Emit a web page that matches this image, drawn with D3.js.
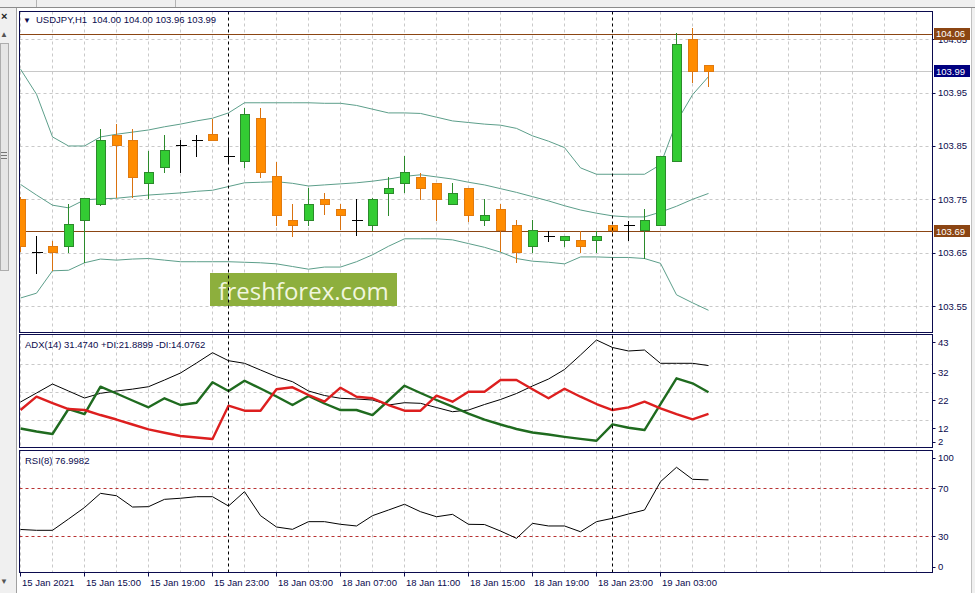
<!DOCTYPE html>
<html><head><meta charset="utf-8">
<script src="https://cdn.jsdelivr.net/npm/d3@7"></script>
<style>body{margin:0;background:#fff}svg{display:block}text{font-family:"Liberation Sans",Arial,sans-serif}</style>
</head><body><svg id="c" width="975" height="593"></svg>
<script>
// ---------- DATA ----------
const times = ["15 Jan 11:00","15 Jan 12:00","15 Jan 13:00","15 Jan 14:00","15 Jan 15:00","15 Jan 16:00","15 Jan 17:00","15 Jan 18:00","15 Jan 19:00","15 Jan 20:00","15 Jan 21:00","15 Jan 22:00","15 Jan 23:00",
"18 Jan 00:00","18 Jan 01:00","18 Jan 02:00","18 Jan 03:00","18 Jan 04:00","18 Jan 05:00","18 Jan 06:00","18 Jan 07:00","18 Jan 08:00","18 Jan 09:00","18 Jan 10:00","18 Jan 11:00","18 Jan 12:00","18 Jan 13:00","18 Jan 14:00","18 Jan 15:00","18 Jan 16:00","18 Jan 17:00","18 Jan 18:00","18 Jan 19:00","18 Jan 20:00","18 Jan 21:00","18 Jan 22:00","18 Jan 23:00",
"19 Jan 00:00","19 Jan 01:00","19 Jan 02:00","19 Jan 03:00","19 Jan 04:00","19 Jan 05:00","19 Jan 06:00"];
const open  = [103.750,103.651,103.662,103.661,103.710,103.741,103.870,103.861,103.780,103.809,103.851,103.860,103.871,103.831,103.820,103.901,103.792,103.711,103.710,103.750,103.731,103.710,103.701,103.761,103.780,103.791,103.780,103.741,103.771,103.711,103.731,103.700,103.662,103.680,103.672,103.672,103.672,103.701,103.700,103.691,103.701,103.821,104.050,104.000];
const high  = [103.755,103.681,103.672,103.741,103.752,103.882,103.891,103.882,103.841,103.871,103.861,103.871,103.901,103.861,103.921,103.921,103.820,103.741,103.772,103.761,103.741,103.750,103.752,103.791,103.832,103.800,103.781,103.781,103.772,103.750,103.741,103.711,103.711,103.691,103.681,103.691,103.691,103.702,103.710,103.731,103.832,104.061,104.071,104.000];
const low   = [103.652,103.610,103.616,103.650,103.631,103.738,103.752,103.752,103.750,103.800,103.800,103.830,103.860,103.816,103.809,103.790,103.700,103.680,103.700,103.720,103.692,103.681,103.691,103.719,103.761,103.749,103.710,103.740,103.708,103.700,103.652,103.631,103.650,103.670,103.661,103.650,103.650,103.681,103.671,103.639,103.700,103.820,103.969,103.960];
const close = [103.661,103.651,103.651,103.702,103.751,103.861,103.851,103.790,103.801,103.841,103.851,103.860,103.860,103.831,103.909,103.800,103.720,103.700,103.741,103.741,103.720,103.710,103.750,103.771,103.801,103.770,103.750,103.761,103.720,103.720,103.691,103.651,103.691,103.680,103.680,103.662,103.680,103.691,103.700,103.711,103.831,104.041,103.990,103.990];

const bbUpper  = [103.994,103.947,103.867,103.850,103.850,103.867,103.872,103.876,103.880,103.886,103.891,103.897,103.902,103.912,103.931,103.931,103.931,103.931,103.931,103.930,103.930,103.926,103.919,103.912,103.912,103.911,103.904,103.897,103.894,103.891,103.889,103.883,103.869,103.859,103.847,103.809,103.797,103.797,103.797,103.797,103.815,103.895,103.946,103.980];
const bbMiddle = [103.778,103.758,103.739,103.734,103.749,103.751,103.752,103.755,103.758,103.760,103.762,103.765,103.767,103.774,103.781,103.782,103.783,103.780,103.775,103.777,103.779,103.781,103.784,103.788,103.793,103.796,103.792,103.788,103.782,103.777,103.770,103.763,103.755,103.747,103.738,103.730,103.724,103.719,103.717,103.717,103.726,103.737,103.750,103.761];
const bbLower  = [103.565,103.574,103.616,103.617,103.631,103.638,103.636,103.638,103.639,103.636,103.633,103.633,103.633,103.633,103.632,103.631,103.629,103.624,103.619,103.623,103.623,103.633,103.646,103.662,103.676,103.676,103.676,103.674,103.667,103.660,103.651,103.639,103.634,103.632,103.629,103.642,103.642,103.641,103.641,103.639,103.630,103.571,103.556,103.542];

const adx     = [18.36,21.6,24.83,22.32,19.8,21.49,22.32,23.0,23.86,26.27,28.79,32.39,36.09,33.22,32.28,29.87,27.46,25.66,22.32,20.7,19.69,19.44,19.08,17.28,18.11,17.89,16.38,14.87,15.48,17.46,19.26,21.42,24.12,26.63,30.05,35.27,40.66,37.96,36.71,37.06,32.28,32.28,32.28,31.47];
const plusDI  = [8.83,7.75,6.85,15.84,14.04,23.86,21.42,18.9,16.45,19.69,17.28,18.11,25.45,22.32,26.02,23.22,20.34,17.28,20.52,17.82,15.48,15.48,13.68,18.9,24.22,21.6,19.08,16.67,14.22,12.06,10.27,8.65,7.39,6.67,5.84,5.12,4.44,10.34,9.12,8.29,17.64,26.88,25.09,21.89];
const minusDI = [15.48,20.27,18.0,15.84,15.48,13.68,12.06,10.27,8.54,7.32,6.13,5.59,5.05,17.03,15.23,15.23,22.93,23.65,20.88,18.47,23.5,20.27,19.69,17.28,15.23,15.23,20.63,18.47,22.06,22.06,26.27,26.27,22.93,19.69,23.14,20.27,17.64,15.48,16.45,18.47,16.09,14.04,12.14,14.08];

const rsi = [35.7,35.0,35.0,44.4,54.0,65.8,63.8,54.4,54.7,60.8,61.7,63.0,63.0,55.25,67.2,47.2,37.75,35.8,42.2,42.2,40.0,38.6,47.2,51.9,56.7,50.5,46.3,48.3,40.0,39.8,34.4,28.3,40.8,38.6,38.6,33.8,42.2,45.0,48.6,51.9,75.5,87.5,77.5,77.0];

const timeTickIdx = [0,4,8,12,16,20,24,28,32,36,40];
const timeTickLabels = ["15 Jan 2021","15 Jan 15:00","15 Jan 19:00","15 Jan 23:00","18 Jan 03:00","18 Jan 07:00","18 Jan 11:00","18 Jan 15:00","18 Jan 19:00","18 Jan 23:00","19 Jan 03:00"];
const priceTicks = [104.05,103.95,103.85,103.75,103.65,103.55];
const adxTicks = [43,32,22,12,2];
const rsiTicks = [100,70,30,0];
const rsiLevels = [70,30];
const hLines = [104.06,103.69];
const bidPrice = 103.99;
const separatorIdx = [13,37];

// ---------- LAYOUT ----------
const svg = d3.select("#c");
const L = 19.5, R = 932.5;
const main = {top:11.5, bottom:332.5};
const pA = {top:334.5, bottom:447.5};
const pR = {top:450.5, bottom:572.5};

const x = d3.scaleLinear().domain([0,43]).range([20.5, 20.5+16*43]);
const yP = d3.scaleLinear().domain([103.55,104.05]).range([306,39.3]);
const yA = d3.scaleLinear().domain([2,43]).range([447.5,333.5]);
const yR = d3.scaleLinear().domain([0,100]).range([572.3,452.3]);

const navy = "#0b0b4e";
const gridCol = "#c9c9c9";

// chrome
svg.append("rect").attr("width",975).attr("height",593).attr("fill","#fff");
svg.append("rect").attr("x",0).attr("y",0).attr("width",975).attr("height",8).attr("fill","#f0f0f0");
svg.append("line").attr("x1",0).attr("x2",975).attr("y1",7.5).attr("y2",7.5).attr("stroke","#8c8c8c");
[36.5,175.5].forEach(v=>svg.append("line").attr("x1",v).attr("x2",v).attr("y1",0).attr("y2",7).attr("stroke","#b4b4b4"));
svg.append("rect").attr("x",0).attr("y",8).attr("width",16).attr("height",585).attr("fill","#f0f0f0");
svg.append("line").attr("x1",16.5).attr("x2",16.5).attr("y1",8).attr("y2",593).attr("stroke","#a0a0a0");
svg.append("rect").attr("x",0.5).attr("y",43.5).attr("width",8).attr("height",227).attr("fill","#e6e6e6").attr("stroke","#adadad");
svg.append("text").attr("x",1).attr("y",20).attr("font-size",11).attr("font-weight","bold").attr("fill","#222").text("×");
svg.append("text").attr("x",0).attr("y",37).attr("font-size",8).attr("fill","#555").text("▲");
svg.append("text").attr("x",0).attr("y",584).attr("font-size",8).attr("fill","#555").text("▼");
[152.5,155.5,158.5].forEach(v=>svg.append("line").attr("x1",1).attr("x2",7).attr("y1",v).attr("y2",v).attr("stroke","#777"));
svg.append("rect").attr("x",971).attr("y",8).attr("width",4).attr("height",585).attr("fill","#f0f0f0");
svg.append("line").attr("x1",971.5).attr("x2",971.5).attr("y1",8).attr("y2",593).attr("stroke","#c0c0c0");

// clip paths
const defs = svg.append("defs");
[["cm",main],["ca",pA],["cr",pR]].forEach(([id,p])=>{
  defs.append("clipPath").attr("id",id).append("rect").attr("x",L).attr("y",p.top).attr("width",R-L).attr("height",p.bottom-p.top);
});

// vertical grid in all panels
const gridIdx = d3.range(0,57,2);
[main,pA,pR].forEach(p=>{
  svg.append("g").selectAll("line").data(gridIdx).join("line")
    .attr("x1",d=>x(d)).attr("x2",d=>x(d)).attr("y1",p.top).attr("y2",p.bottom)
    .attr("stroke",gridCol).attr("stroke-dasharray","3,3");
});
// horizontal grid main
svg.append("g").selectAll("line").data(priceTicks).join("line")
  .attr("x1",L).attr("x2",R).attr("y1",d=>Math.round(yP(d))+0.5).attr("y2",d=>Math.round(yP(d))+0.5)
  .attr("stroke",gridCol).attr("stroke-dasharray","3,3");
svg.append("g").selectAll("line").data([32,22,12]).join("line")
  .attr("x1",L).attr("x2",R).attr("y1",d=>Math.round(yA(d))+0.5).attr("y2",d=>Math.round(yA(d))+0.5)
  .attr("stroke",gridCol).attr("stroke-dasharray","3,3");

// watermark
svg.append("rect").attr("x",210).attr("y",273).attr("width",187).attr("height",33).attr("fill","#8daf3d");
svg.append("text").attr("x",303.5).attr("y",290).attr("text-anchor","middle").attr("dominant-baseline","central")
  .style("font-family","'Open Sans',sans-serif").attr("font-size",24).attr("fill","#f1f6df").text("freshforex.com");

// bid line
const yb = Math.round(yP(bidPrice))+0.5;
svg.append("line").attr("x1",L).attr("x2",R).attr("y1",yb).attr("y2",yb).attr("stroke","#c8c8c8");

// horizontal brown lines
svg.append("g").selectAll("line").data(hLines).join("line")
  .attr("x1",L).attr("x2",R).attr("y1",d=>Math.round(yP(d))+0.5).attr("y2",d=>Math.round(yP(d))+0.5)
  .attr("stroke","#8b4513");

// Bollinger bands
const gm = svg.append("g").attr("clip-path","url(#cm)");
const bbLine = d3.line().x((d,i)=>x(i)).y(d=>yP(d));
[bbUpper,bbMiddle,bbLower].forEach(arr=>{
  gm.append("path").attr("d",bbLine(arr)).attr("fill","none").attr("stroke","#5c9e8a").attr("stroke-width",1);
});

// candles
const candles = d3.range(open.length).map(i=>({i,o:open[i],h:high[i],l:low[i],c:close[i]}));
const cg = gm.append("g").attr("shape-rendering","crispEdges");
cg.selectAll("line.w").data(candles).join("line").attr("class","w")
  .attr("x1",d=>x(d.i)).attr("x2",d=>x(d.i)).attr("y1",d=>yP(d.h)).attr("y2",d=>yP(d.l))
  .attr("stroke",d=>d.c>d.o?"#2b8a2b":(d.c<d.o?"#d9720f":"#000"));
cg.selectAll("rect").data(candles.filter(d=>d.c!==d.o)).join("rect")
  .attr("x",d=>x(d.i)-4).attr("width",9)
  .attr("y",d=>yP(Math.max(d.o,d.c))).attr("height",d=>Math.max(1,yP(Math.min(d.o,d.c))-yP(Math.max(d.o,d.c))))
  .attr("fill",d=>d.c>d.o?"#33cc33":"#ff8c00")
  .attr("stroke",d=>d.c>d.o?"#2b8a2b":"#e07a10");
cg.selectAll("line.d").data(candles.filter(d=>d.c===d.o)).join("line").attr("class","d")
  .attr("x1",d=>x(d.i)-5).attr("x2",d=>x(d.i)+6).attr("y1",d=>yP(d.o)).attr("y2",d=>yP(d.o))
  .attr("stroke","#000");

// ADX panel
const ga = svg.append("g").attr("clip-path","url(#ca)");
const la = d3.line().x((d,i)=>x(i)).y(d=>yA(d));
ga.append("path").attr("d",la(adx)).attr("fill","none").attr("stroke","#000").attr("stroke-width",1);
ga.append("path").attr("d",la(plusDI)).attr("fill","none").attr("stroke","#1f6b1f").attr("stroke-width",2.4).attr("stroke-linejoin","round");
ga.append("path").attr("d",la(minusDI)).attr("fill","none").attr("stroke","#dd1f1f").attr("stroke-width",2.4).attr("stroke-linejoin","round");

// RSI panel
const gr = svg.append("g").attr("clip-path","url(#cr)");
gr.selectAll("line").data(rsiLevels).join("line")
  .attr("x1",L).attr("x2",R).attr("y1",d=>Math.round(yR(d))+0.5).attr("y2",d=>Math.round(yR(d))+0.5)
  .attr("stroke","#b83232").attr("stroke-dasharray","3,3");
gr.append("path").attr("d",d3.line().x((d,i)=>x(i)).y(d=>yR(d))(rsi)).attr("fill","none").attr("stroke","#000").attr("stroke-width",1);

// separators
svg.append("g").selectAll("line").data(separatorIdx).join("line")
  .attr("x1",d=>x(d)).attr("x2",d=>x(d)).attr("y1",main.top).attr("y2",pR.bottom)
  .attr("stroke","#000").attr("stroke-dasharray","3,3");

// frames
[main,pA,pR].forEach(p=>{
  svg.append("rect").attr("x",L).attr("y",p.top).attr("width",R-L).attr("height",p.bottom-p.top)
    .attr("fill","none").attr("stroke",navy);
});

// right axis labels
const fs = 9.5;
const ax = svg.append("g").attr("font-size",fs).attr("fill",navy);
priceTicks.forEach(v=>{
  const yy = yP(v);
  ax.append("line").attr("x1",R).attr("x2",R+3).attr("y1",Math.round(yy)+0.5).attr("y2",Math.round(yy)+0.5).attr("stroke",navy);
  ax.append("text").attr("x",938).attr("y",yy).attr("dominant-baseline","central").text(d3.format(".2f")(v));
});
adxTicks.forEach(v=>{
  const yy = Math.min(yA(v)+8.5, pA.bottom-6);
  ax.append("line").attr("x1",R).attr("x2",R+3).attr("y1",Math.round(yy)+0.5).attr("y2",Math.round(yy)+0.5).attr("stroke",navy);
  ax.append("text").attr("x",938).attr("y",yy).attr("dominant-baseline","central").text(v);
});
rsiTicks.forEach(v=>{
  const yy = Math.max(pR.top+7, Math.min(yR(v), pR.bottom-6));
  ax.append("line").attr("x1",R).attr("x2",R+3).attr("y1",Math.round(yy)+0.5).attr("y2",Math.round(yy)+0.5).attr("stroke",navy);
  ax.append("text").attr("x",938).attr("y",yy).attr("dominant-baseline","central").text(v);
});

// price label boxes
function priceBox(v, fill){
  const yy = yP(v);
  svg.append("rect").attr("x",934).attr("y",Math.round(yy)-6).attr("width",36).attr("height",12).attr("fill",fill);
  svg.append("text").attr("x",936).attr("y",yy).attr("dominant-baseline","central").attr("font-size",fs).attr("fill","#fff").text(d3.format(".2f")(v));
}
hLines.forEach(v=>priceBox(v,"#8b4513"));
priceBox(bidPrice,"#000080");

// time axis
const tx = svg.append("g").attr("font-size",fs).attr("fill",navy);
timeTickIdx.forEach((k,j)=>{
  const xx = Math.floor(x(k))+0.5;
  tx.append("line").attr("x1",xx).attr("x2",xx).attr("y1",pR.bottom).attr("y2",pR.bottom+4).attr("stroke",navy);
  tx.append("text").attr("x",xx+1.5).attr("y",582).attr("dominant-baseline","central").text(timeTickLabels[j]);
});

// titles
svg.append("text").attr("x",23).attr("y",20).attr("font-size",8).attr("fill",navy).attr("dominant-baseline","central").text("▼");
svg.append("text").attr("x",36).attr("y",19.5).attr("font-size",fs).attr("fill",navy).attr("dominant-baseline","central").text("USDJPY,H1");
svg.append("text").attr("x",92).attr("y",19.5).attr("font-size",fs).attr("fill",navy).attr("dominant-baseline","central").text("104.00 104.00 103.96 103.99");
svg.append("text").attr("x",25).attr("y",344).attr("font-size",fs).attr("fill",navy).attr("dominant-baseline","central")
  .text(`ADX(14) 31.4740 +DI:21.8899 -DI:14.0762`);
svg.append("text").attr("x",25).attr("y",460).attr("font-size",fs).attr("fill",navy).attr("dominant-baseline","central")
  .text(`RSI(8) 76.9982`);
</script></body></html>
